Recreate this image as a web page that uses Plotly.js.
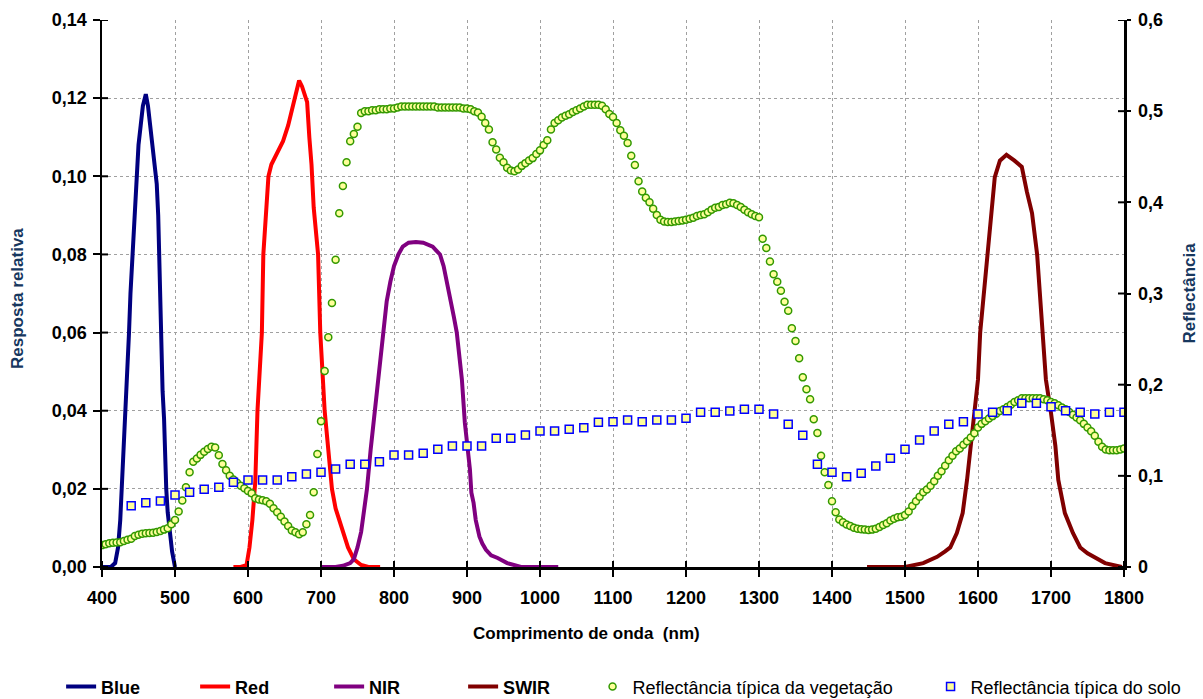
<!DOCTYPE html>
<html>
<head>
<meta charset="utf-8">
<script src="https://cdn.plot.ly/plotly-3.0.1.min.js"></script>
<style>html,body{margin:0;padding:0;background:#fff;}#chart{width:1203px;height:699px;}</style>
</head>
<body>
<div id="chart"></div>
<script>
// ---- Data ----
const blueX = [400,412,418,422,425,427,430,433,435,437,439,442,444,447,450,453,456,460,463,466,469,472,475,477,479,480,481,483,485,486,488,490,493,496,500];
const blueY = [0,0,0.001,0.005,0.012,0.02,0.03,0.04,0.05,0.06,0.07,0.08,0.09,0.10,0.108,0.113,0.118,0.121,0.118,0.113,0.108,0.103,0.098,0.09,0.075,0.065,0.055,0.045,0.038,0.03,0.02,0.014,0.008,0.004,0];

const redX = [580,590,598,602,606,610,613,616,619,621,625,628,632,640,648,655,662,667,670,674,678,681,684,687,690,693,696,699,702,705,710,715,720,728,737,745,755,765,781];
const redY = [0,0,0.0005,0.005,0.012,0.022,0.04,0.05,0.06,0.08,0.09,0.10,0.103,0.106,0.109,0.113,0.118,0.122,0.1245,0.123,0.121,0.119,0.11,0.103,0.092,0.085,0.08,0.06,0.05,0.04,0.03,0.02,0.015,0.01,0.005,0.002,0.0005,0,0];

const nirX = [700,720,730,735,740,745,750,755,760,763,768,774,780,785,790,795,800,806,812,820,830,840,848,853,858,863,868,872,877,882,886,890,893,897,901,904,906,909,912,917,921,926,933,942,955,974,1000,1025];
const nirY = [0,0,0.0003,0.0006,0.001,0.002,0.005,0.009,0.015,0.02,0.03,0.04,0.05,0.06,0.068,0.073,0.077,0.08,0.082,0.083,0.0832,0.083,0.0825,0.082,0.081,0.08,0.077,0.0735,0.069,0.064,0.06,0.053,0.048,0.037,0.03,0.025,0.019,0.0164,0.012,0.0078,0.006,0.0044,0.003,0.0023,0.001,0,0,0];

const swirX = [1448,1500,1525,1544,1555,1562,1571,1579,1585,1590,1596,1600,1603,1608,1612,1618,1623,1630,1639,1650,1660,1667,1674,1681,1685,1689,1693,1700,1706,1710,1719,1730,1740,1750,1758,1774,1797];
const swirY = [0,0,0.001,0.0026,0.004,0.005,0.0087,0.0138,0.0223,0.031,0.0394,0.048,0.06,0.07,0.08,0.0906,0.0998,0.104,0.1055,0.104,0.1024,0.096,0.0906,0.08,0.07,0.06,0.048,0.0394,0.031,0.0223,0.0138,0.0087,0.005,0.0035,0.0026,0.001,0];

// Vegetation reflectance, 400–1800 nm every 5 nm
const vegX = Array.from({length: 281}, (_, i) => 400 + 5 * i);
const vegY = [
0.024,0.025,0.026,0.0265,0.027,0.0272,0.0285,0.030,0.031,0.034,
0.0355,0.0365,0.037,0.0373,0.0376,0.0383,0.0395,0.041,0.0425,0.047,
0.0516,0.061,0.073,0.0874,0.104,0.1155,0.119,0.123,0.1265,0.1295,
0.132,0.131,0.1225,0.113,0.106,0.100,0.096,0.0925,0.089,0.0865,
0.0835,0.081,0.0755,0.074,0.0733,0.072,0.0695,0.0644,0.060,0.055,
0.050,0.045,0.040,0.038,0.036,0.038,0.047,0.057,0.082,0.124,
0.160,0.215,0.252,0.2896,0.337,0.388,0.418,0.444,0.467,0.475,
0.483,0.498,0.500,0.500,0.501,0.501,0.502,0.502,0.502,0.503,
0.503,0.504,0.505,0.505,0.505,0.505,0.505,0.505,0.505,0.505,
0.505,0.505,0.504,0.504,0.504,0.504,0.504,0.504,0.504,0.503,
0.503,0.502,0.500,0.4985,0.494,0.487,0.480,0.466,0.458,0.449,
0.444,0.438,0.435,0.434,0.436,0.440,0.443,0.446,0.4485,0.453,
0.457,0.463,0.468,0.480,0.487,0.490,0.493,0.495,0.4965,0.499,
0.501,0.503,0.505,0.507,0.507,0.507,0.507,0.506,0.502,0.497,
0.4935,0.487,0.479,0.473,0.465,0.451,0.441,0.423,0.412,0.405,
0.400,0.393,0.386,0.381,0.379,0.3785,0.3785,0.379,0.3795,0.380,
0.381,0.382,0.383,0.385,0.386,0.387,0.389,0.392,0.394,0.395,
0.397,0.398,0.3995,0.399,0.397,0.395,0.392,0.389,0.387,0.385,
0.3836,0.360,0.350,0.335,0.321,0.313,0.303,0.291,0.281,0.262,
0.248,0.229,0.208,0.195,0.184,0.162,0.147,0.122,0.104,0.090,
0.072,0.060,0.052,0.049,0.0465,0.045,0.043,0.042,0.0415,0.041,
0.0406,0.041,0.042,0.044,0.046,0.048,0.051,0.053,0.0545,0.055,
0.057,0.061,0.067,0.072,0.077,0.082,0.085,0.089,0.094,0.100,
0.105,0.111,0.117,0.122,0.127,0.130,0.134,0.138,0.142,0.1466,
0.153,0.157,0.160,0.163,0.1655,0.168,0.171,0.173,0.1755,0.178,
0.181,0.183,0.185,0.185,0.185,0.185,0.185,0.185,0.184,0.183,
0.181,0.1795,0.1775,0.175,0.173,0.170,0.167,0.164,0.161,0.157,
0.153,0.149,0.144,0.1374,0.132,0.129,0.128,0.128,0.128,0.129,
0.130];

// Soil reflectance, 440–1800 nm every 20 nm
const soilX = Array.from({length: 69}, (_, i) => 440 + 20 * i);
const soilY = [
0.0672,0.0705,0.0724,0.079,0.082,0.0852,0.0874,0.0929,0.0954,0.0954,
0.0954,0.099,0.102,0.1039,0.1075,0.1126,0.1126,0.1155,0.1228,0.1228,
0.1247,0.1291,0.1327,0.1327,0.1327,0.1412,0.1412,0.1448,0.1492,0.1492,
0.151,0.1528,0.1587,0.1594,0.1612,0.1594,0.1612,0.1612,0.1631,0.1697,
0.1697,0.1711,0.173,0.173,0.1678,0.1565,0.1445,0.1127,0.1039,0.099,
0.1028,0.1108,0.1192,0.1291,0.1393,0.1492,0.1565,0.1594,0.1678,0.1697,
0.1714,0.1796,0.1796,0.1758,0.1714,0.1697,0.1678,0.1697,0.1697];

const xTicks = [400,500,600,700,800,900,1000,1100,1200,1300,1400,1500,1600,1700,1800];
const yLeftTicks = [0,0.02,0.04,0.06,0.08,0.10,0.12,0.14];
const yLeftLabels = ["0,00","0,02","0,04","0,06","0,08","0,10","0,12","0,14"];
const yRightTicks = [0,0.1,0.2,0.3,0.4,0.5,0.6];
const yRightLabels = ["0","0,1","0,2","0,3","0,4","0,5","0,6"];

const names = ["Blue","Red","NIR","SWIR","Reflectância típica da vegetação","Reflectância típica do solo"];

// ---- Traces ----
const lineW = 4;
const traces = [
  {x: blueX, y: blueY, name: names[0], mode: 'lines', line: {color: '#000080', width: lineW}, legend: 'legend'},
  {x: redX, y: redY, name: names[1], mode: 'lines', line: {color: '#FF0000', width: lineW}, legend: 'legend'},
  {x: nirX, y: nirY, name: names[2], mode: 'lines', line: {color: '#800080', width: lineW}, legend: 'legend'},
  {x: swirX, y: swirY, name: names[3], mode: 'lines', line: {color: '#800000', width: lineW}, legend: 'legend'},
  {x: vegX, y: vegY, name: names[4], mode: 'markers', yaxis: 'y2', legend: 'legend2',
   marker: {symbol: 'circle', size: 7, color: '#FFFF99', line: {color: '#339900', width: 1.5}}},
  {x: soilX, y: soilY, name: names[5], mode: 'markers', yaxis: 'y2', legend: 'legend2',
   marker: {symbol: 'square', size: 8, color: '#FFFF99', line: {color: '#0000FF', width: 1.5}}}
];

const W = 1203, H = 699;
const m = {l: 102, r: 79, t: 20, b: 132, autoexpand: false};
const pw = W - m.l - m.r, ph = H - m.t - m.b;
const half = 6;

// crossing tick marks (inner half)
const shapes = [];
xTicks.forEach(v => shapes.push({type: 'line', xref: 'x', yref: 'paper', x0: v, x1: v, y0: 0, y1: half / ph, line: {color: '#000', width: 2}}));
yLeftTicks.forEach(v => shapes.push({type: 'line', xref: 'paper', yref: 'y', x0: 0, x1: half / pw, y0: v, y1: v, line: {color: '#000', width: 2}}));
yRightTicks.forEach(v => shapes.push({type: 'line', xref: 'paper', yref: 'y2', x0: 1 - half / pw, x1: 1, y0: v, y1: v, line: {color: '#000', width: 2}}));

const font = 'Liberation Sans, Arial, sans-serif';
const tickFont = {family: font, size: 18, color: '#000', weight: 'bold'};

const layout = {
  width: W, height: H,
  margin: m,
  paper_bgcolor: '#fff', plot_bgcolor: '#fff',
  showlegend: true,
  xaxis: {
    range: [400, 1800], tickvals: xTicks, ticktext: xTicks.map(String),
    ticks: 'outside', ticklen: 7, tickwidth: 2, tickcolor: '#000',
    showline: true, linecolor: '#000', linewidth: 2.5,
    showgrid: true, gridcolor: '#a0a0a0', griddash: 'dot', gridwidth: 1,
    zeroline: false, tickfont: tickFont, ticklabelstandoff: 6, automargin: false
  },
  yaxis: {
    range: [0, 0.14], tickvals: yLeftTicks, ticktext: yLeftLabels,
    ticks: 'outside', ticklen: 7, tickwidth: 2, tickcolor: '#000',
    showline: true, linecolor: '#000', linewidth: 2.5,
    showgrid: true, gridcolor: '#a0a0a0', griddash: 'dot', gridwidth: 1,
    zeroline: false, tickfont: tickFont, ticklabelstandoff: 2, automargin: false
  },
  yaxis2: {
    range: [0, 0.6], tickvals: yRightTicks, ticktext: yRightLabels,
    overlaying: 'y', side: 'right', anchor: 'x',
    ticks: 'outside', ticklen: 4, tickwidth: 2, tickcolor: '#000',
    showline: true, linecolor: '#000', linewidth: 2.5,
    showgrid: false, zeroline: false, tickfont: tickFont, ticklabelstandoff: 4, automargin: false
  },
  legend: {
    orientation: 'h', x: -0.04, xanchor: 'left', y: -0.219, yanchor: 'middle',
    entrywidth: 89, entrywidthmode: 'pixels', itemwidth: 30,
    font: {family: font, size: 18, color: '#000', weight: 'bold'},
    bgcolor: 'rgba(0,0,0,0)', traceorder: 'normal'
  },
  legend2: {
    orientation: 'h', x: 0.48, xanchor: 'left', y: -0.219, yanchor: 'middle',
    entrywidth: 293, entrywidthmode: 'pixels', itemwidth: 30,
    font: {family: font, size: 18, color: '#000'},
    bgcolor: 'rgba(0,0,0,0)', traceorder: 'normal'
  },
  annotations: [
    {text: 'Comprimento de onda  (nm)', xref: 'paper', yref: 'paper', x: (586 - m.l) / pw, y: (567 - 633) / ph,
     xanchor: 'center', yanchor: 'middle', showarrow: false, font: {family: font, size: 17, color: '#000', weight: 'bold'}},
    {text: 'Resposta relativa', xref: 'paper', yref: 'paper', x: (18 - m.l) / pw, y: 0.49, textangle: -90,
     xanchor: 'center', yanchor: 'middle', showarrow: false, font: {family: font, size: 17, color: '#17375E', weight: 'bold'}},
    {text: 'Reflectância', xref: 'paper', yref: 'paper', x: (1189 - m.l) / pw, y: 0.5, textangle: -90,
     xanchor: 'center', yanchor: 'middle', showarrow: false, font: {family: font, size: 17, color: '#17375E', weight: 'bold'}}
  ],
  shapes: shapes
};

Plotly.newPlot('chart', traces, layout, {staticPlot: true, displayModeBar: false});
</script>
</body>
</html>
